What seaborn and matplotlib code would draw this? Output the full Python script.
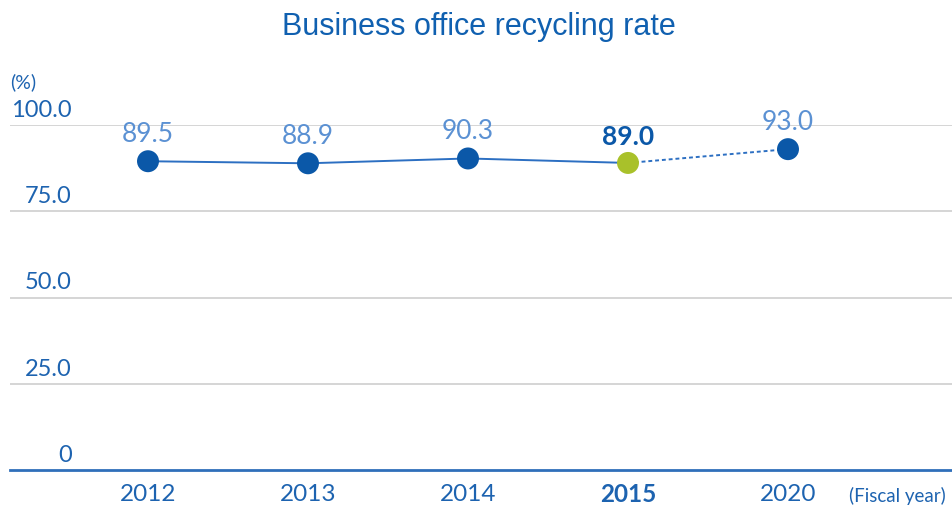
import numpy as np
import pandas as pd
import matplotlib
matplotlib.use('Agg')
import matplotlib.pyplot as plt
import matplotlib.transforms as mtransforms
import seaborn as sns

years = ['2012', '2013', '2014', '2015', '2020']
rates = [89.5, 88.9, 90.3, 89.0, 93.0]
actual_years = ['2012', '2013', '2014', '2015']   # solid line
target_years = ['2015', '2020']                   # dotted line (plan)
y_ticks = [0, 25, 50, 75, 100]
y_tick_labels = ['0', '25.0', '50.0', '75.0', '100.0']

df = pd.DataFrame({'year': years, 'rate': rates})
df['pos'] = np.arange(len(years))
df['kind'] = ['past', 'past', 'past', 'current', 'target']

sns.set_style('white')
plt.rcParams['font.family'] = ['Lato', 'DejaVu Sans']

dark_blue = '#0b58a8'
light_blue = '#5b91d3'
line_blue = '#2c6fc2'
green = '#a9c12a'

fig = plt.figure(figsize=(9.52, 5.06), dpi=100)
ax = fig.add_axes([10 / 952, 1 - 471 / 506, 1 - 10 / 952, (471 - 126) / 506])

solid = df[df['year'].isin(actual_years)]
dotted = df[df['year'].isin(target_years)]
sns.lineplot(data=solid, x='pos', y='rate', ax=ax, color=line_blue, lw=1.4)
sns.lineplot(data=dotted, x='pos', y='rate', ax=ax, color=line_blue, lw=1.4,
             linestyle=(0, (2, 1.5)))
sns.scatterplot(data=df, x='pos', y='rate', hue='kind', ax=ax, s=250,
                palette={'past': dark_blue, 'current': green, 'target': dark_blue},
                edgecolor='none', legend=False, zorder=5)

ax.set_ylim(0, 100)
ax.set_xlim(-0.8625, 5.025)
ax.set_xlabel('')
ax.set_ylabel('')
ax.set_yticks([])
ax.set_xticks([])
for s in ['top', 'right', 'left']:
    ax.spines[s].set_visible(False)
ax.spines['bottom'].set_color('#2f6fba')
ax.spines['bottom'].set_linewidth(2)

for t in y_ticks[1:]:
    ax.axhline(t, color='#d2d2d2', lw=1.3, zorder=0)

# y tick labels sit above gridlines
trans = mtransforms.blended_transform_factory(ax.transAxes, ax.transData)
for t, lab in zip(y_ticks, y_tick_labels):
    ax.text(62 / 942, t + 1.5, lab, transform=trans, ha='right', va='bottom',
            fontsize=17, color='#1d63b0', clip_on=False)
ax.text(0.0, 110, '(%)', transform=trans, ha='left', va='bottom',
        fontsize=14, color='#1d63b0', clip_on=False)

# value labels
for i, (yr, v) in enumerate(zip(years, rates)):
    bold = yr == '2015'
    ax.annotate(f'{v:.1f}', (i, v), xytext=(0, 11), textcoords='offset points',
                ha='center', va='bottom', fontsize=19,
                color=dark_blue if bold else light_blue,
                fontweight='bold' if bold else 'normal', annotation_clip=False)

# x tick labels
for i, yr in enumerate(years):
    ax.text(i, -6.8, yr, ha='center', va='center', fontsize=17.5,
            color='#1d63b0', fontweight='bold' if yr == '2015' else 'normal',
            clip_on=False)
ax.text(4.38, -7.2, '(Fiscal year)', ha='left', va='center', fontsize=13.5,
        color='#1d63b0', clip_on=False)

fig.text(0.503, 0.947, 'Business office recycling rate', ha='center', va='center',
         fontsize=22, color='#1060b0', family=['Liberation Sans', 'DejaVu Sans'])

fig.savefig('out.png', dpi=100)
